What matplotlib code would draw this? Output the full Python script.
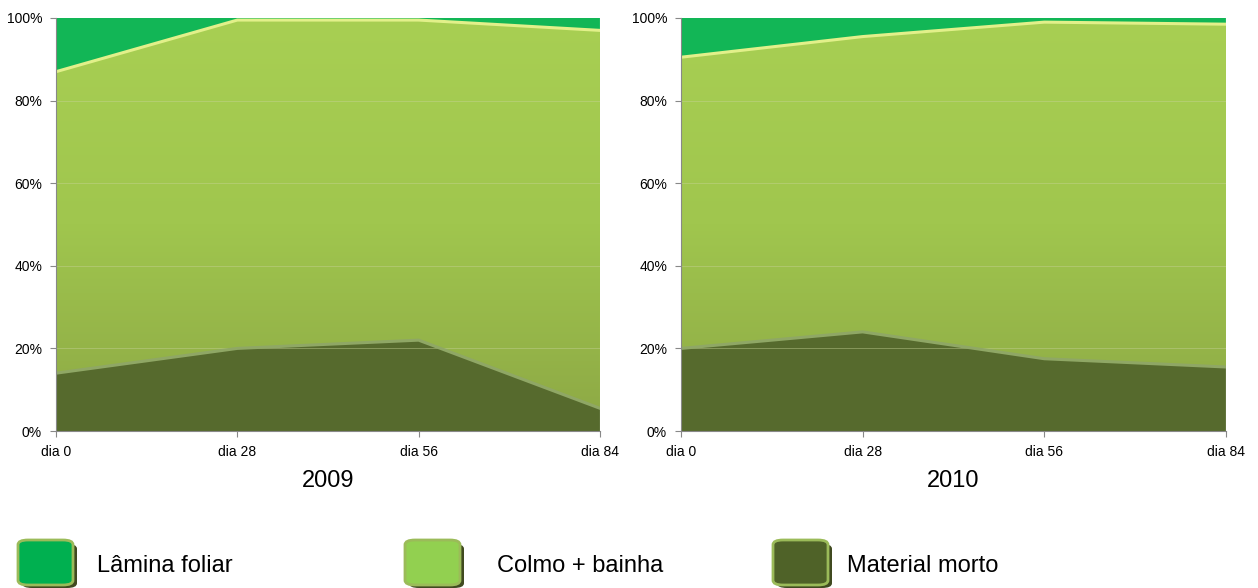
import matplotlib
matplotlib.use('Agg')
import matplotlib.pyplot as plt
import numpy as np
from matplotlib.patches import FancyBboxPatch
from matplotlib.colors import LinearSegmentedColormap
from matplotlib.ticker import PercentFormatter

plt.rcParams['font.family'] = ['Liberation Sans Narrow', 'Liberation Sans', 'DejaVu Sans']

# ===== Data ===== #
days = ['dia 0', 'dia 28', 'dia 56', 'dia 84']
series_names = ['Lâmina foliar', 'Colmo + bainha', 'Material morto']

# percentages per component (bottom: material morto)
morto_2009 = [14.0, 20.0, 22.0, 5.5]
colmo_2009 = [73.0, 79.5, 77.5, 91.5]
lamina_2009 = [13.0, 0.5, 0.5, 3.0]

morto_2010 = [20.0, 24.0, 17.5, 15.5]
colmo_2010 = [70.5, 71.5, 81.5, 83.0]
lamina_2010 = [9.5, 4.5, 1.0, 1.5]

years = ['2009', '2010']

# colours
c_lamina = '#12B656'
c_colmo = '#A3C74E'
c_morto = '#566A2D'
leg_colors = ['#00B050', '#92D050', '#4F6228']
colmo_grad = LinearSegmentedColormap.from_list('colmo', ['#8DA845', '#A0C64E', '#A8CF53'])

fig = plt.figure(figsize=(12.58, 5.88), dpi=100)

panels = [
    (fig.add_axes([0.0445, 0.267, 0.4324, 0.7024]), morto_2009, colmo_2009, lamina_2009, years[0]),
    (fig.add_axes([0.5413, 0.267, 0.4332, 0.7024]), morto_2010, colmo_2010, lamina_2010, years[1]),
]

for ax, morto, colmo, lamina, year in panels:
    x = list(range(len(days)))
    polys = ax.stackplot(x, morto, colmo, lamina, colors=[c_morto, c_colmo, c_lamina], linewidth=0)
    # vertical gradient inside the colmo area
    grad = np.linspace(0, 1, 256).reshape(-1, 1)
    im = ax.imshow(grad, cmap=colmo_grad, origin='lower', aspect='auto',
                   extent=[0, 3, 0, 100], zorder=1.5)
    im.set_clip_path(polys[1].get_paths()[0], ax.transData)
    top_morto = morto
    top_colmo = [m + c for m, c in zip(morto, colmo)]
    ax.plot(x, top_morto, color='#8FA765', lw=2.2, zorder=3)
    ax.plot(x, top_colmo, color='#E2F08A', lw=2.2, zorder=3)
    for g in [20, 40, 60, 80]:
        ax.axhline(g, color='#C8D49A', lw=0.6, alpha=0.5, zorder=2)
    ax.set_xlim(0, 3)
    ax.set_ylim(0, 100)
    ax.set_yticks([0, 20, 40, 60, 80, 100])
    ax.yaxis.set_major_formatter(PercentFormatter(decimals=0))
    ax.set_xticks(x)
    ax.set_xticklabels(days)
    ax.tick_params(labelsize=10, length=4, color='#888888', pad=6)
    for s in ['top', 'right']:
        ax.spines[s].set_visible(False)
    for s in ['left', 'bottom']:
        ax.spines[s].set_color('#888888')
        ax.spines[s].set_zorder(4)
    ax.set_xlabel(year, fontsize=17, labelpad=8)

# ===== Legend ===== #
box_x = [18, 405, 773]
text_x = [97, 497, 847]
for bx, tx, col, name in zip(box_x, text_x, leg_colors, series_names):
    shadow = FancyBboxPatch(((bx + 4) / 1258, 0), 55 / 1258, 44 / 588,
                            boxstyle='round,pad=0,rounding_size=0.008',
                            transform=fig.transFigure, facecolor='#404a20', edgecolor='none')
    fig.patches.append(shadow)
    box = FancyBboxPatch((bx / 1258, 3 / 588), 55 / 1258, 45 / 588,
                         boxstyle='round,pad=0,rounding_size=0.008',
                         transform=fig.transFigure, facecolor=col, edgecolor='#9BBB59', lw=2)
    fig.patches.append(box)
    fig.text(tx / 1258, 1 - 566 / 588, name, fontsize=17, va='center', ha='left')

fig.savefig('out.png', dpi=100)
